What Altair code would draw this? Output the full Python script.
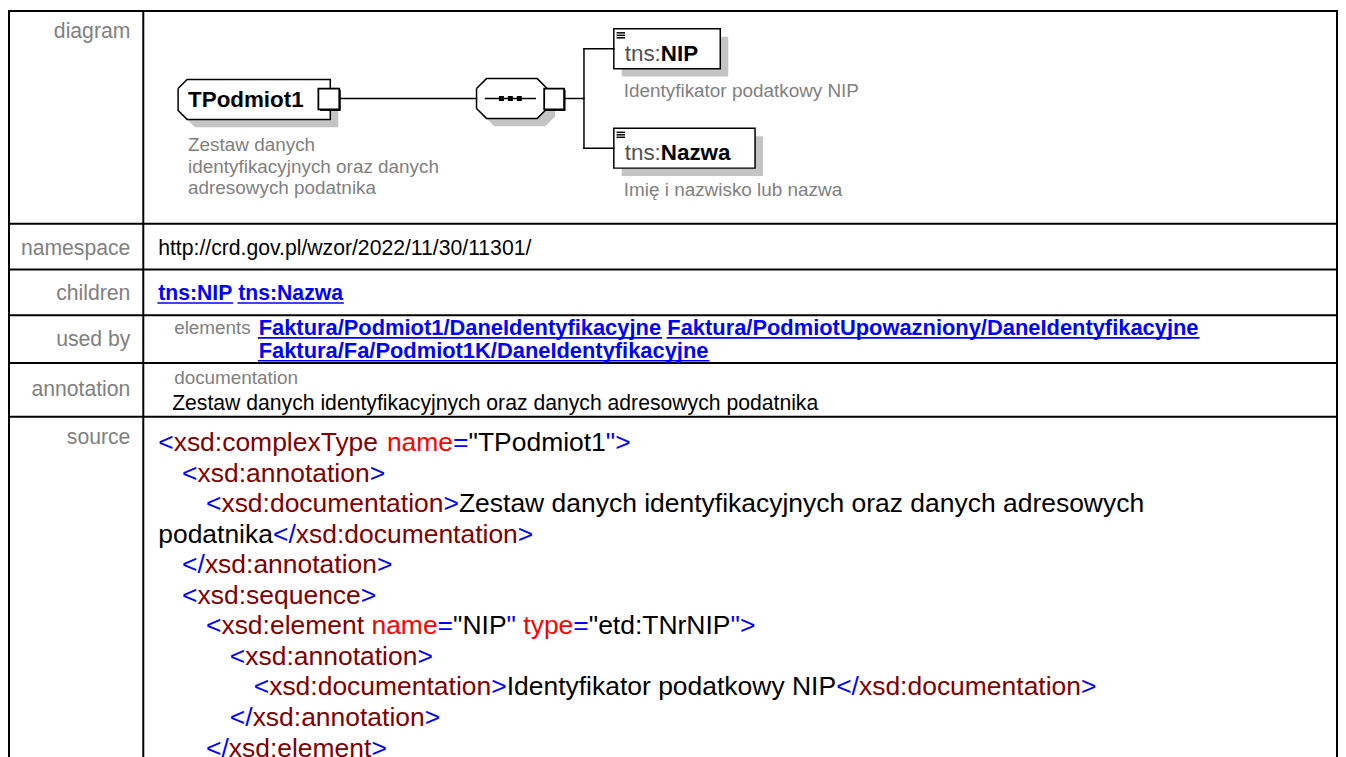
import altair as alt
import pandas as pd

# ---------------- content ----------------
ROW_LABELS = ["diagram", "namespace", "children", "used by", "annotation", "source"]
NAMESPACE = "http://crd.gov.pl/wzor/2022/11/30/11301/"
CHILDREN = ["tns:NIP", "tns:Nazwa"]
USED_BY_KIND = "elements"
USED_BY_LINES = [
    ["Faktura/Podmiot1/DaneIdentyfikacyjne", "Faktura/PodmiotUpowazniony/DaneIdentyfikacyjne"],
    ["Faktura/Fa/Podmiot1K/DaneIdentyfikacyjne"],
]
ANNOT_KIND = "documentation"
ANNOT_TEXT = "Zestaw danych identyfikacyjnych oraz danych adresowych podatnika"
TYPE_NAME = "TPodmiot1"
TYPE_DOC = ["Zestaw danych", "identyfikacyjnych oraz danych", "adresowych podatnika"]
ELEM_PREFIX = "tns:"
ELEM_NAMES = ["NIP", "Nazwa"]
ELEM_DOCS = ["Identyfikator podatkowy NIP", "Imię i nazwisko lub nazwa"]

SOURCE_LINES = [
    (0, [("<", "b"), ("xsd:complexType", "m"), (" name", "r"), ("=", "b"), ('"TPodmiot1', "k"), ('">', "b")]),
    (1, [("<", "b"), ("xsd:annotation", "m"), (">", "b")]),
    (2, [("<", "b"), ("xsd:documentation", "m"), (">", "b"),
         ("Zestaw danych identyfikacyjnych oraz danych adresowych", "k")]),
    (0, [("podatnika", "k"), ("</", "b"), ("xsd:documentation", "m"), (">", "b")]),
    (1, [("</", "b"), ("xsd:annotation", "m"), (">", "b")]),
    (1, [("<", "b"), ("xsd:sequence", "m"), (">", "b")]),
    (2, [("<", "b"), ("xsd:element", "m"), (" name", "r"), ("=", "b"), ('"NIP', "k"), ('"', "b"),
         (" type", "r"), ("=", "b"), ('"etd:TNrNIP', "k"), ('">', "b")]),
    (3, [("<", "b"), ("xsd:annotation", "m"), (">", "b")]),
    (4, [("<", "b"), ("xsd:documentation", "m"), (">", "b"), ("Identyfikator podatkowy NIP", "k"),
         ("</", "b"), ("xsd:documentation", "m"), (">", "b")]),
    (3, [("</", "b"), ("xsd:annotation", "m"), (">", "b")]),
    (2, [("</", "b"), ("xsd:element", "m"), (">", "b")]),
]
ROLE_COLORS = {"b": "#0000ff", "m": "#800000", "r": "#ff0000", "k": "#000000"}

# ---------------- styles ----------------
FONT = "Liberation Sans, Arial, Helvetica, sans-serif"
LABEL_GRAY = "#808080"
LINK_BLUE = "#0000ff"
SHADOW = "#c4c4c4"
FS_BODY = 21.3
FS_SUB = 19
FS_LINK = 22
FS_SRC = 26.6
FS_DIAG_NAME = 22.5
FS_DIAG_DOC = 19

# Arial / Liberation Sans advance widths (1/1000 em)
_REG = dict(zip("ABCDEFGHIJKLMNOPQRSTUVWXYZ",
                [667, 667, 722, 722, 667, 611, 778, 722, 278, 500, 667, 556, 833, 722, 778, 667, 778, 722, 667,
                 611, 722, 667, 944, 667, 667, 611]))
_REG.update(zip("abcdefghijklmnopqrstuvwxyz",
                [556, 556, 500, 556, 556, 278, 556, 556, 222, 222, 500, 222, 833, 556, 556, 556, 556, 333, 500,
                 278, 556, 500, 722, 500, 500, 500]))
_REG.update({c: 556 for c in "0123456789"})
_REG.update({" ": 278, '"': 355, "/": 278, ":": 278, ".": 278, "<": 584, "=": 584, ">": 584, "-": 333})
_BOLD = dict(zip("ABCDEFGHIJKLMNOPQRSTUVWXYZ",
                 [722, 722, 722, 722, 667, 611, 778, 722, 278, 556, 722, 611, 833, 722, 778, 667, 778, 722, 667,
                  611, 722, 667, 944, 667, 667, 611]))
_BOLD.update(zip("abcdefghijklmnopqrstuvwxyz",
                 [556, 611, 556, 611, 556, 333, 611, 611, 278, 278, 556, 278, 889, 611, 611, 611, 611, 389, 556,
                  333, 611, 556, 778, 556, 556, 500]))
_BOLD.update({c: 556 for c in "0123456789"})
_BOLD.update({" ": 278, '"': 474, "/": 278, ":": 333, ".": 278, "<": 584, "=": 584, ">": 584, "-": 333})


def tw(s, size, bold=False):
    table = _BOLD if bold else _REG
    return sum(table.get(ch, 556) for ch in s) * size / 1000.0


# ---------------- page layout (page pixel coordinates) ----------------
W, H = 1337, 749
OX, OY = 8, 8
TABLE_L, TABLE_R, TABLE_T, TABLE_B = 9, 1344, 9, 790
DIV_X = 144
ROW_LINES = [223, 269, 315, 363, 417]
LABEL_RIGHT = 131
LABEL_BASE = [36.5, 254, 300, 345.5, 396.5, 444.5]
CONTENT_X = 159
SUB_X = 175
TEXT_X = 173
LINK_X = 260
SRC_BASE0, SRC_STEP, SRC_INDENT = 451.5, 30.7, 24

reg_left, bold_left, reg_right = [], [], []
underlines = []

for lab, yb in zip(ROW_LABELS, LABEL_BASE):
    reg_right.append(dict(x=LABEL_RIGHT, y=yb, t=lab, c=LABEL_GRAY, s=FS_BODY))

reg_left.append(dict(x=CONTENT_X, y=254, t=NAMESPACE, c="#000000", s=FS_BODY))

xc = CONTENT_X
for name in CHILDREN:
    w = tw(name, FS_BODY, True)
    bold_left.append(dict(x=xc, y=300, t=name, c=LINK_BLUE, s=FS_BODY))
    underlines.append(dict(x=xc, x2=xc + w, y=302.6, y2=302.6))
    xc += w + tw(" ", FS_BODY, True)

reg_left.append(dict(x=SUB_X, y=334, t=USED_BY_KIND, c=LABEL_GRAY, s=FS_SUB))
for li, links in enumerate(USED_BY_LINES):
    yb = 335 + li * 23
    xc = LINK_X
    for name in links:
        w = tw(name, FS_LINK, True)
        bold_left.append(dict(x=xc, y=yb, t=name, c=LINK_BLUE, s=FS_LINK))
        underlines.append(dict(x=xc, x2=xc + w, y=yb + 2.6, y2=yb + 2.6))
        xc += w + tw(" ", FS_LINK, True)

reg_left.append(dict(x=SUB_X, y=384, t=ANNOT_KIND, c=LABEL_GRAY, s=FS_SUB))
reg_left.append(dict(x=TEXT_X, y=410, t=ANNOT_TEXT, c="#000000", s=FS_BODY))

for li, (indent, segs) in enumerate(SOURCE_LINES):
    xc = CONTENT_X + indent * SRC_INDENT
    yb = SRC_BASE0 + li * SRC_STEP
    for text, role in segs:
        if text.startswith(" "):
            xc += tw(" ", FS_SRC)
            text = text.lstrip(" ")
        reg_left.append(dict(x=xc, y=yb, t=text, c=ROLE_COLORS[role], s=FS_SRC))
        xc += tw(text, FS_SRC)

# ---------------- diagram geometry ----------------
SH = 8  # shadow offset
T_BOX = (179, 332, 78, 118)      # x0, x1, y0, y1
SEQ_BOX = (479, 550, 77, 117)
ELEM_BOXES = [(617, 724, 27, 67), (617, 759, 127, 167)]
MINUS_BOXES = [(320, 341, 87, 108), (547, 567, 87, 108)]
BRANCH_X = 587


def chamfer(x0, x1, y0, y1, c, left, right):
    pts = []
    pts += [(x0, y0 + c, y1 - c), (x0 + c, y0, y1)] if left else [(x0, y0, y1)]
    pts += [(x1 - c, y0, y1), (x1, y0 + c, y1 - c)] if right else [(x1, y0, y1)]
    return pts


shapes = [("type", chamfer(*T_BOX, 9, True, False)), ("seq", chamfer(*SEQ_BOX, 10, True, True))]
area_shadow, area_white, outline = [], [], []
for sid, pts in shapes:
    for (x, yt, yb) in pts:
        area_shadow.append(dict(sid=sid, x=x + SH, y=yt + SH, y2=yb + SH))
        area_white.append(dict(sid=sid, x=x, y=yt, y2=yb))
    path = [(x, yt) for x, yt, yb in pts] + [(x, yb) for x, yt, yb in reversed(pts)]
    path.append(path[0])
    for i, (x, y) in enumerate(path):
        outline.append(dict(sid=sid, i=i, x=x, y=y))

rects = []
for (x0, x1, y0, y1) in ELEM_BOXES:
    rects.append(dict(x=x0 + SH, x2=x1 + SH, y=y0 + SH, y2=y1 + SH, fill=SHADOW, stroke=SHADOW, sw=0))
for (x0, x1, y0, y1) in ELEM_BOXES:
    rects.append(dict(x=x0, x2=x1, y=y0, y2=y1, fill="#ffffff", stroke="#000000", sw=1.5))

top_rects = []
for (x0, x1, y0, y1) in MINUS_BOXES:
    top_rects.append(dict(x=x0 + 1.5, x2=x1 + 1.5, y=y0 + 1.5, y2=y1 + 1.5, fill="#000000", stroke="#000000", sw=0))
    top_rects.append(dict(x=x0, x2=x1, y=y0, y2=y1, fill="#ffffff", stroke="#000000", sw=1.8))
for cx in [504, 513, 522]:
    top_rects.append(dict(x=cx - 2.5, x2=cx + 2.5, y=94.5, y2=99.5, fill="#000000", stroke="#000000", sw=0))

thin = []  # connector / symbol strokes
thin.append(dict(x=341, x2=SEQ_BOX[0], y=97, y2=97))
thin.append(dict(x=488, x2=538, y=97, y2=97))
thin.append(dict(x=568, x2=BRANCH_X, y=97, y2=97))
ymids = [(b[2] + b[3]) / 2 for b in ELEM_BOXES]
thin.append(dict(x=BRANCH_X, x2=BRANCH_X, y=ymids[0], y2=ymids[1]))
for (x0, x1, y0, y1), ym in zip(ELEM_BOXES, ymids):
    thin.append(dict(x=BRANCH_X, x2=x0, y=ym, y2=ym))
    for dy in (4, 6.5, 9):
        thin.append(dict(x=x0 + 3.5, x2=x0 + 10.5, y=y0 + dy, y2=y0 + dy))
for (x0, x1, y0, y1) in MINUS_BOXES:
    ym = (y0 + y1) / 2
    thin.append(dict(x=x0 + 4, x2=x1 - 4, y=ym, y2=ym))

table = []
table.append(dict(x=TABLE_L, x2=TABLE_R, y=TABLE_T, y2=TABLE_T))
table.append(dict(x=TABLE_L, x2=TABLE_L, y=TABLE_T, y2=TABLE_B))
table.append(dict(x=TABLE_R, x2=TABLE_R, y=TABLE_T, y2=TABLE_B))
table.append(dict(x=DIV_X, x2=DIV_X, y=TABLE_T, y2=TABLE_B))
for yl in ROW_LINES:
    table.append(dict(x=TABLE_L, x2=TABLE_R, y=yl, y2=yl))

# diagram texts
bold_left.append(dict(x=189, y=105.5, t=TYPE_NAME, c="#000000", s=FS_DIAG_NAME))
for i, line in enumerate(TYPE_DOC):
    reg_left.append(dict(x=189, y=150 + i * 21.5, t=line, c=LABEL_GRAY, s=FS_DIAG_DOC))
for (x0, x1, y0, y1), nm, doc in zip(ELEM_BOXES, ELEM_NAMES, ELEM_DOCS):
    reg_left.append(dict(x=628, y=y0 + 32, t=ELEM_PREFIX, c="#505050", s=FS_DIAG_NAME))
    bold_left.append(dict(x=628 + tw(ELEM_PREFIX, FS_DIAG_NAME), y=y0 + 32, t=nm, c="#000000", s=FS_DIAG_NAME))
    reg_left.append(dict(x=627, y=y1 + 28, t=doc, c=LABEL_GRAY, s=FS_DIAG_DOC))

# ---------------- chart ----------------
xs = alt.Scale(domain=[OX, OX + W], nice=False, zero=False)
ys = alt.Scale(domain=[OY, OY + H], nice=False, zero=False, reverse=True)


def X(f="x"):
    return alt.X(f + ":Q", scale=xs, axis=None)


def Y(f="y"):
    return alt.Y(f + ":Q", scale=ys, axis=None)


def rule_layer(rows, color, width):
    return alt.Chart(pd.DataFrame(rows)).mark_rule(color=color, strokeWidth=width, strokeCap="square").encode(
        x=X(), x2="x2:Q", y=Y(), y2="y2:Q")


def rect_layer(rows):
    return alt.Chart(pd.DataFrame(rows)).mark_rect().encode(
        x=X(), x2="x2:Q", y=Y(), y2="y2:Q",
        color=alt.Color("fill:N", scale=None),
        stroke=alt.Stroke("stroke:N", scale=None),
        strokeWidth=alt.StrokeWidth("sw:Q", scale=None))


def area_layer(rows, fill):
    return alt.Chart(pd.DataFrame(rows)).mark_area(color=fill, orient="vertical", interpolate="linear").encode(
        x=X(), y=alt.Y("y:Q", scale=ys, axis=None, stack=False), y2="y2:Q", detail="sid:N")


def text_layer(rows, align, weight):
    return alt.Chart(pd.DataFrame(rows)).mark_text(
        align=align, baseline="alphabetic", font=FONT, fontWeight=weight).encode(
        x=X(), y=Y(), text="t:N",
        color=alt.Color("c:N", scale=None),
        size=alt.Size("s:Q", scale=None))


outline_layer = alt.Chart(pd.DataFrame(outline)).mark_line(color="#000000", strokeWidth=1.5).encode(
    x=X(), y=Y(), order="i:Q", detail="sid:N")

chart = alt.layer(
    area_layer(area_shadow, SHADOW),
    area_layer(area_white, "#ffffff"),
    rect_layer(rects),
    outline_layer,
    rule_layer(thin, "#000000", 1.5),
    rect_layer(top_rects),
    rule_layer(table, "#000000", 2),
    text_layer(reg_left, "left", "normal"),
    text_layer(bold_left, "left", "bold"),
    text_layer(reg_right, "right", "normal"),
    rule_layer(underlines, LINK_BLUE, 1.6),
).properties(
    width=W, height=H, padding=0, background="#ffffff",
    autosize=alt.AutoSizeParams(type="none"),
).configure_view(strokeWidth=0)

chart.save("out.html", embed_options={"renderer": "svg", "actions": False})
